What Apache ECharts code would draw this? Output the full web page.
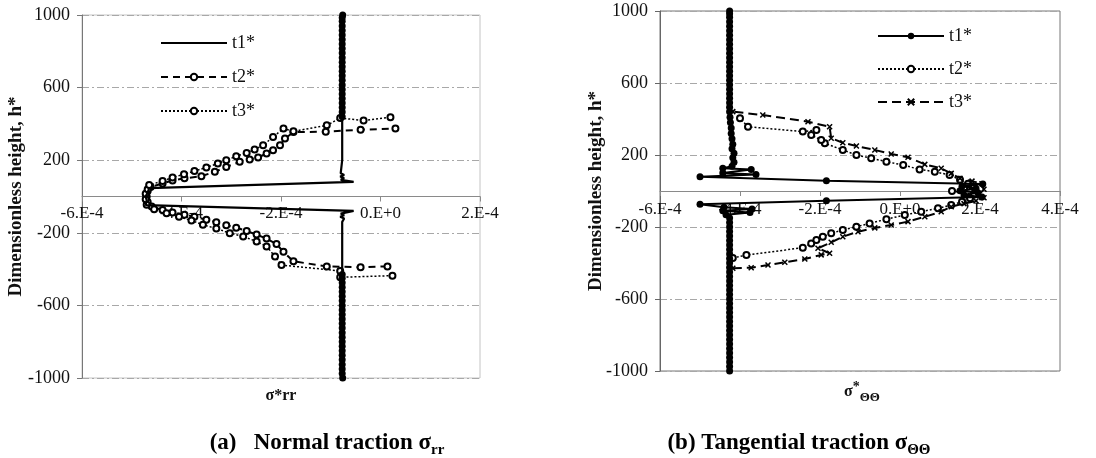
<!DOCTYPE html>
<html>
<head>
<meta charset="utf-8">
<script src="https://cdn.jsdelivr.net/npm/echarts@6/dist/echarts.min.js"></script>
<style>
  html, body { margin: 0; padding: 0; background: #fff; }
  #chart { width: 1096px; height: 458px; }
</style>
</head>
<body>
<div id="chart"></div>
<script>
// Tick labels of the stress axes (Excel-style scientific notation) and the height axis
const xTickLabelsNormal = ['-6.E-4', '-4.E-4', '-2.E-4', '0.E+0', '2.E-4'];
const xTickLabelsTangential = ['-6.E-4', '-4.E-4', '-2.E-4', '0.E+0', '2.E-4', '4.E-4'];
const yTickLabels = ['-1000', '-600', '-200', '200', '600', '1000'];
const legendNames = ['t1*', 't2*', 't3*'];

// ---- (a) Normal traction: points are [sigma*rr, h*] ----
// t1*: lower dense stretch, middle stretch, upper dense stretch
const normalT1Low = [
  [-0.76e-4, -1000], [-0.77e-4, -975], [-0.77e-4, -950], [-0.77e-4, -925], [-0.77e-4, -900],
  [-0.77e-4, -875], [-0.77e-4, -850], [-0.77e-4, -825], [-0.77e-4, -800], [-0.77e-4, -775],
  [-0.77e-4, -750], [-0.77e-4, -725], [-0.77e-4, -700], [-0.77e-4, -675], [-0.77e-4, -650],
  [-0.77e-4, -625], [-0.77e-4, -600], [-0.77e-4, -575], [-0.77e-4, -550], [-0.77e-4, -525],
  [-0.77e-4, -500], [-0.77e-4, -475], [-0.77e-4, -450], [-0.77e-4, -430]
];
const normalT1Mid = [
  [-0.77e-4, -400], [-0.77e-4, -300], [-0.77e-4, -200], [-0.77e-4, -140], [-0.80e-4, -130],
  [-0.73e-4, -121], [-0.81e-4, -112], [-0.73e-4, -103], [-0.80e-4, -94], [-0.54e-4, -79],
  [-4.72e-4, -47], [-4.70e-4, -20], [-4.72e-4, 0], [-4.68e-4, 22], [-4.65e-4, 46],
  [-0.54e-4, 81], [-0.80e-4, 92], [-0.73e-4, 101], [-0.81e-4, 110], [-0.73e-4, 119],
  [-0.80e-4, 128], [-0.77e-4, 138], [-0.77e-4, 200], [-0.77e-4, 300], [-0.77e-4, 420]
];
const normalT1High = [
  [-0.77e-4, 440], [-0.77e-4, 465], [-0.77e-4, 490], [-0.77e-4, 515], [-0.77e-4, 540],
  [-0.77e-4, 565], [-0.77e-4, 590], [-0.77e-4, 615], [-0.77e-4, 640], [-0.77e-4, 665],
  [-0.77e-4, 690], [-0.77e-4, 715], [-0.77e-4, 740], [-0.77e-4, 765], [-0.77e-4, 790],
  [-0.77e-4, 815], [-0.77e-4, 840], [-0.77e-4, 865], [-0.77e-4, 890], [-0.77e-4, 915],
  [-0.77e-4, 940], [-0.77e-4, 965], [-0.77e-4, 985], [-0.76e-4, 1000]
];
const normalT2 = [
  [0.14e-4, -385], [-0.40e-4, -390], [-1.08e-4, -385], [-1.75e-4, -357], [-1.95e-4, -305],
  [-2.09e-4, -262], [-2.29e-4, -232], [-2.49e-4, -210], [-2.69e-4, -190], [-2.90e-4, -172],
  [-3.10e-4, -158], [-3.30e-4, -142], [-3.50e-4, -128], [-3.74e-4, -112], [-3.94e-4, -100],
  [-4.18e-4, -88], [-4.38e-4, -75], [-4.60e-4, -55], [-4.68e-4, -30], [-4.70e-4, 0],
  [-4.68e-4, 30], [-4.62e-4, 52], [-4.38e-4, 72], [-4.18e-4, 88], [-3.94e-4, 100],
  [-3.60e-4, 112], [-3.33e-4, 136], [-3.10e-4, 163], [-2.83e-4, 191], [-2.63e-4, 204],
  [-2.46e-4, 215], [-2.29e-4, 237], [-2.16e-4, 255], [-2.02e-4, 282], [-1.92e-4, 319],
  [-1.75e-4, 355], [-1.10e-4, 357], [-0.40e-4, 368], [0.30e-4, 374]
];
const normalT3 = [
  [0.24e-4, -436], [-0.81e-4, -445], [-0.81e-4, -410], [-1.99e-4, -378], [-2.12e-4, -330],
  [-2.29e-4, -275], [-2.49e-4, -248], [-2.76e-4, -220], [-3.03e-4, -202], [-3.30e-4, -176],
  [-3.57e-4, -156], [-3.80e-4, -132], [-4.05e-4, -112], [-4.30e-4, -92], [-4.55e-4, -70],
  [-4.70e-4, -45], [-4.72e-4, -15], [-4.72e-4, 15], [-4.68e-4, 40], [-4.65e-4, 63],
  [-4.38e-4, 85], [-4.18e-4, 105], [-3.95e-4, 122], [-3.74e-4, 140], [-3.50e-4, 160],
  [-3.27e-4, 182], [-3.10e-4, 200], [-2.90e-4, 222], [-2.69e-4, 240], [-2.53e-4, 259],
  [-2.36e-4, 282], [-2.16e-4, 328], [-1.95e-4, 374], [-1.75e-4, 359], [-1.08e-4, 392],
  [-0.81e-4, 432], [-0.34e-4, 419], [0.20e-4, 437]
];

// ---- (b) Tangential traction: points are [sigma*ΘΘ, h*] ----
const tangentialT1 = [
  [-4.26e-4, -1000], [-4.26e-4, -975], [-4.26e-4, -950], [-4.26e-4, -925], [-4.26e-4, -900],
  [-4.26e-4, -875], [-4.26e-4, -850], [-4.26e-4, -825], [-4.26e-4, -800], [-4.26e-4, -775],
  [-4.26e-4, -750], [-4.26e-4, -725], [-4.26e-4, -700], [-4.26e-4, -675], [-4.26e-4, -650],
  [-4.26e-4, -625], [-4.26e-4, -600], [-4.26e-4, -575], [-4.26e-4, -550], [-4.26e-4, -525],
  [-4.26e-4, -500], [-4.26e-4, -475], [-4.26e-4, -450], [-4.26e-4, -425], [-4.26e-4, -400],
  [-4.26e-4, -375], [-4.26e-4, -350], [-4.26e-4, -325], [-4.26e-4, -300], [-4.26e-4, -275],
  [-4.26e-4, -250], [-4.26e-4, -225], [-4.26e-4, -200], [-4.26e-4, -175], [-4.26e-4, -150],
  [-4.35e-4, -132], [-3.75e-4, -120], [-4.43e-4, -110], [-3.70e-4, -100], [-4.40e-4, -90],
  [-5.00e-4, -73], [-1.84e-4, -54], [2.05e-4, -33], [1.60e-4, -22], [1.95e-4, -10],
  [1.50e-4, 2], [1.90e-4, 14], [1.55e-4, 26], [2.07e-4, 39], [-1.84e-4, 57],
  [-5.00e-4, 79], [-3.60e-4, 92], [-4.43e-4, 100], [-3.72e-4, 120], [-4.43e-4, 127],
  [-4.20e-4, 137], [-4.15e-4, 160], [-4.18e-4, 185], [-4.15e-4, 210], [-4.20e-4, 235],
  [-4.18e-4, 260], [-4.20e-4, 290], [-4.22e-4, 320], [-4.22e-4, 350], [-4.24e-4, 380],
  [-4.25e-4, 410], [-4.26e-4, 440], [-4.26e-4, 465], [-4.26e-4, 490], [-4.26e-4, 515],
  [-4.26e-4, 540], [-4.26e-4, 565], [-4.26e-4, 590], [-4.26e-4, 615], [-4.26e-4, 640],
  [-4.26e-4, 665], [-4.26e-4, 690], [-4.26e-4, 715], [-4.26e-4, 740], [-4.26e-4, 765],
  [-4.26e-4, 790], [-4.26e-4, 815], [-4.26e-4, 840], [-4.26e-4, 865], [-4.26e-4, 890],
  [-4.26e-4, 915], [-4.26e-4, 940], [-4.26e-4, 965], [-4.26e-4, 985], [-4.26e-4, 1000]
];
const tangentialT2 = [
  [-4.18e-4, -372], [-3.84e-4, -356], [-2.43e-4, -315], [-2.22e-4, -291], [-2.09e-4, -272],
  [-1.93e-4, -254], [-1.72e-4, -235], [-1.43e-4, -217], [-1.09e-4, -198], [-0.76e-4, -180],
  [-0.34e-4, -157], [0.12e-4, -133], [0.53e-4, -115], [0.95e-4, -96], [1.28e-4, -78],
  [1.55e-4, -60], [1.75e-4, -40], [1.85e-4, -20], [1.30e-4, 0], [1.85e-4, 20],
  [1.70e-4, 40], [1.50e-4, 62], [1.24e-4, 89], [0.87e-4, 107], [0.49e-4, 120],
  [0.08e-4, 144], [-0.34e-4, 163], [-0.72e-4, 182], [-1.09e-4, 200], [-1.43e-4, 228],
  [-1.88e-4, 265], [-1.97e-4, 283], [-2.22e-4, 311], [-2.09e-4, 339], [-2.43e-4, 330],
  [-3.80e-4, 357], [-4.00e-4, 404]
];
const tangentialT3 = [
  [-4.18e-4, -429], [-3.72e-4, -426], [-3.30e-4, -411], [-2.88e-4, -396], [-2.38e-4, -378],
  [-1.97e-4, -355], [-1.76e-4, -346], [-2.05e-4, -318], [-1.72e-4, -285], [-1.43e-4, -254],
  [-1.05e-4, -226], [-0.63e-4, -205], [-0.22e-4, -189], [0.20e-4, -170], [0.62e-4, -143],
  [1.03e-4, -115], [1.28e-4, -87], [1.60e-4, -70], [1.90e-4, -55], [2.10e-4, -38],
  [2.00e-4, -15], [2.10e-4, 10], [2.05e-4, 40], [1.80e-4, 55], [1.50e-4, 70],
  [1.28e-4, 98], [1.03e-4, 126], [0.62e-4, 148], [0.20e-4, 187], [-0.22e-4, 206],
  [-0.63e-4, 228], [-1.09e-4, 250], [-1.43e-4, 268], [-1.72e-4, 293], [-1.76e-4, 357],
  [-2.30e-4, 385], [-3.43e-4, 422], [-4.18e-4, 441]
];

const SERIF = '"Liberation Serif", "Times New Roman", serif';
const INK = '#000';

// plot rectangles of the two panels
const GRID_A = { left: 82, top: 15, width: 398, height: 363 };
const GRID_B = { left: 660, top: 11, width: 400, height: 360 };

// dense stretches of t1 in (a) carry markers, the middle stretch is a bare line
const markerItem = p => ({ value: p, symbol: 'circle', symbolSize: 7 });
const plainItem = p => ({ value: p, symbol: 'none' });
const normalT1Data = normalT1Low.map(markerItem)
  .concat(normalT1Mid.map(plainItem))
  .concat(normalT1High.map(markerItem));

// the stress axis runs through h* = 0, i.e. through the middle of the panel
function xAxisFor(gridIndex, grid, min, max, labels, labelMargin) {
  return {
    type: 'value', gridIndex, min, max, interval: 2e-4,
    position: 'bottom', offset: -grid.height / 2,
    axisLine: { onZero: false, lineStyle: { color: '#8a8a8a', width: 1 } },
    axisTick: { show: true, length: 5, lineStyle: { color: '#8a8a8a' } },
    axisLabel: {
      margin: labelMargin, color: '#111', fontFamily: SERIF, fontSize: 17,
      formatter: (v, i) => labels[i]
    },
    splitLine: { show: false }
  };
}
function yAxisFor(gridIndex, axisColor, nameGap) {
  return {
    type: 'value', gridIndex, min: -1000, max: 1000, interval: 400,
    name: 'Dimensionless height, h*', nameLocation: 'middle', nameGap,
    nameMoveOverlap: false,
    nameTextStyle: { fontFamily: SERIF, fontWeight: 'bold', fontSize: 19, color: '#111' },
    axisLine: { show: true, onZero: false, lineStyle: { color: axisColor, width: 1 } },
    axisTick: { show: true, length: 5, lineStyle: { color: axisColor } },
    axisLabel: {
      margin: 12, color: '#111', fontFamily: SERIF, fontSize: 18,
      formatter: (v, i) => yTickLabels[i]
    },
    splitLine: { show: true, lineStyle: { color: '#a8a8a8', width: 1, type: [7, 3, 2, 3] } }
  };
}
function legendFor(left, top, gap, prefix, bareFirst) {
  return {
    orient: 'vertical', left, top, itemGap: gap, itemWidth: 66, itemHeight: 8,
    data: legendNames.map((n, i) => (bareFirst && i === 0)
      ? { name: prefix + n, itemStyle: { opacity: 0 } }
      : prefix + n),
    formatter: name => name.slice(prefix.length),
    textStyle: { fontFamily: SERIF, fontSize: 18, color: '#111' },
    selectedMode: false
  };
}

const xMark = 'path://M0,0L10,10M10,0L0,10';

const chart = echarts.init(document.getElementById('chart'), null, { renderer: 'canvas' });
chart.setOption({
  animation: false,
  backgroundColor: '#fff',
  grid: [
    Object.assign({ show: true, borderColor: '#c4c4c4', borderWidth: 1, backgroundColor: 'transparent' }, GRID_A),
    Object.assign({ show: true, borderColor: '#777', borderWidth: 1, backgroundColor: 'transparent' }, GRID_B)
  ],
  xAxis: [
    xAxisFor(0, GRID_A, -6e-4, 2e-4, xTickLabelsNormal, 9),
    xAxisFor(1, GRID_B, -6e-4, 4e-4, xTickLabelsTangential, 10)
  ],
  yAxis: [
    yAxisFor(0, '#777', 56),
    yAxisFor(1, '#666', 54)
  ],
  legend: [
    legendFor(155, 29, 16, 'a:', true),
    legendFor(872, 22, 15, 'b:', false)
  ],
  series: [
    {
      name: 'a:t2*', type: 'line', xAxisIndex: 0, yAxisIndex: 0, data: normalT2,
      symbol: 'emptyCircle', symbolSize: 6, z: 3,
      lineStyle: { color: INK, width: 2, type: [7, 5] },
      itemStyle: { color: INK, borderColor: INK, borderWidth: 1.6 }
    },
    {
      name: 'a:t3*', type: 'line', xAxisIndex: 0, yAxisIndex: 0, data: normalT3,
      symbol: 'emptyCircle', symbolSize: 6, z: 3,
      lineStyle: { color: INK, width: 1.5, type: [2, 2] },
      itemStyle: { color: INK, borderColor: INK, borderWidth: 1.6 }
    },
    {
      name: 'a:t1*', type: 'line', xAxisIndex: 0, yAxisIndex: 0, data: normalT1Data,
      symbol: 'none', z: 4,
      lineStyle: { color: INK, width: 2.2 },
      itemStyle: { color: INK, borderColor: INK, borderWidth: 0 }
    },
    {
      name: 'b:t2*', type: 'line', xAxisIndex: 1, yAxisIndex: 1, data: tangentialT2,
      symbol: 'emptyCircle', symbolSize: 6, z: 3,
      lineStyle: { color: INK, width: 1.5, type: [2, 2] },
      itemStyle: { color: INK, borderColor: INK, borderWidth: 1.6 }
    },
    {
      name: 'b:t3*', type: 'line', xAxisIndex: 1, yAxisIndex: 1, data: tangentialT3,
      symbol: xMark, symbolSize: 5, z: 3,
      lineStyle: { color: INK, width: 2, type: [9, 5] },
      itemStyle: { color: INK, borderColor: INK, borderWidth: 1.5 }
    },
    {
      name: 'b:t1*', type: 'line', xAxisIndex: 1, yAxisIndex: 1, data: tangentialT1,
      symbol: 'circle', symbolSize: 7, z: 4,
      lineStyle: { color: INK, width: 2 },
      itemStyle: { color: INK, borderWidth: 0 }
    }
  ],
  graphic: [
    {
      type: 'text', x: 281, y: 396,
      style: { text: 'σ*rr', fill: '#111', font: 'bold 16px ' + SERIF, align: 'center', verticalAlign: 'middle' }
    },
    {
      type: 'text', x: 862, y: 392,
      style: {
        text: '{m|σ}{p|*}{s|ΘΘ}', align: 'center', verticalAlign: 'middle',
        rich: {
          m: { fontFamily: SERIF, fontWeight: 'bold', fontSize: 16, fill: '#111', lineHeight: 24, verticalAlign: 'middle' },
          p: { fontFamily: SERIF, fontWeight: 'bold', fontSize: 14, fill: '#111', lineHeight: 24, verticalAlign: 'top' },
          s: { fontFamily: SERIF, fontWeight: 'bold', fontSize: 13, fill: '#111', lineHeight: 24, verticalAlign: 'bottom' }
        }
      }
    },
    {
      type: 'text', x: 327, y: 443,
      style: {
        text: '{m|(a)   Normal traction σ}{s|rr}', align: 'center', verticalAlign: 'middle',
        rich: {
          m: { fontFamily: SERIF, fontWeight: 'bold', fontSize: 23, fill: '#000', lineHeight: 30, verticalAlign: 'middle' },
          s: { fontFamily: SERIF, fontWeight: 'bold', fontSize: 15, fill: '#000', lineHeight: 30, verticalAlign: 'bottom' }
        }
      }
    },
    {
      type: 'text', x: 799, y: 443,
      style: {
        text: '{m|(b) Tangential traction σ}{s|ΘΘ}', align: 'center', verticalAlign: 'middle',
        rich: {
          m: { fontFamily: SERIF, fontWeight: 'bold', fontSize: 23, fill: '#000', lineHeight: 30, verticalAlign: 'middle' },
          s: { fontFamily: SERIF, fontWeight: 'bold', fontSize: 15, fill: '#000', lineHeight: 30, verticalAlign: 'bottom' }
        }
      }
    }
  ]
});
</script>
</body>
</html>
